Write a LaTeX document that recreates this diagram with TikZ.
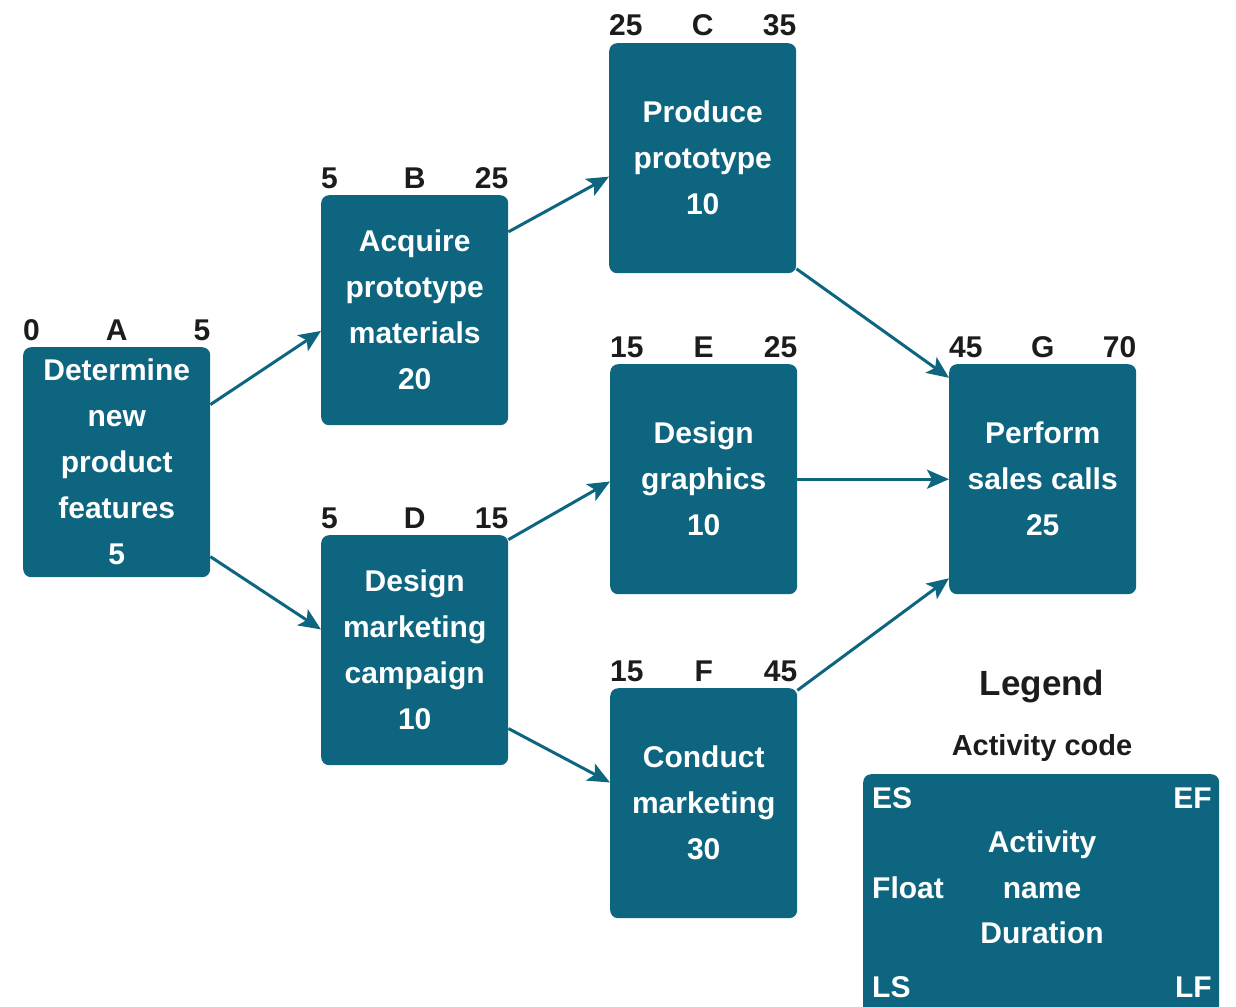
\documentclass[tikz,border=0pt]{standalone}
\usepackage{fontspec}
\setmainfont{Liberation Sans}
\usetikzlibrary{arrows.meta,calc}
\definecolor{teal1}{RGB}{13,101,128}
\definecolor{ink}{RGB}{28,28,28}
\tikzset{
  act/.style={fill=teal1, rounded corners=8pt, minimum width=187pt, minimum height=230pt,
    inner sep=0pt, text=white, font=\fontsize{30}{46}\selectfont\bfseries, align=center, anchor=north west},
  lab/.style={text=ink, font=\fontsize{30}{36}\selectfont\bfseries, inner sep=0pt},
  legtxt/.style={text=white, font=\fontsize{30}{46}\selectfont\bfseries, inner sep=0pt, align=center},
  conn/.style={draw=teal1, line width=3pt, -{Stealth[length=22pt,width=19pt,inset=5pt]}},
}
\newcommand\activity[7]{%
  \node[act] (#1) at (#2,#3) {#7};
  \node[lab, anchor=base west] (#1es) at ($(#1.north west)+(0,-7)$) {#5};
  \node[lab, anchor=base] (#1code) at ($(#1.north)+(0,-7)$) {#4};
  \node[lab, anchor=base east] (#1ef) at ($(#1.north east)+(0,-7)$) {#6};
}
\begin{document}
\begin{tikzpicture}[x=1pt,y=-1pt]
\useasboundingbox (0,0) rectangle (1236,1006);
\clip (0,0) rectangle (1236,1006);
\activity{A}{23}{347}{A}{0}{5}{Determine\\new\\product\\features\\5}
\activity{B}{321}{195}{B}{5}{25}{Acquire\\prototype\\materials\\20}
\activity{C}{609}{43}{C}{25}{35}{Produce\\prototype\\10}
\activity{D}{321}{535}{D}{5}{15}{Design\\marketing\\campaign\\10}
\activity{E}{610}{364}{E}{15}{25}{Design\\graphics\\10}
\activity{F}{610}{688}{F}{15}{45}{Conduct\\marketing\\30}
\activity{G}{949}{364}{G}{45}{70}{Perform\\sales calls\\25}

\draw[conn] ($(A.north east)!0.25!(A.south east)$) -- ($(B.north west)!0.59!(B.south west)$);
\draw[conn] ($(A.north east)!0.91!(A.south east)$) -- ($(D.north west)!0.41!(D.south west)$);
\draw[conn] ($(B.north east)!0.16!(B.south east)$) -- ($(C.north west)!0.58!(C.south west)$);
\draw[conn] ($(D.north east)!0.02!(D.south east)$) -- ($(E.north west)!0.51!(E.south west)$);
\draw[conn] ($(D.north east)!0.84!(D.south east)$) -- ($(F.north west)!0.41!(F.south west)$);
\draw[conn] ($(C.north east)!0.98!(C.south east)$) -- ($(G.north west)!0.06!(G.south west)$);
\draw[conn] (E.east) -- (G.west);
\draw[conn] ($(F.north east)!0.01!(F.south east)$) -- ($(G.north west)!0.93!(G.south west)$);

% legend
\node[text=ink, font=\fontsize{35}{40}\selectfont\bfseries, inner sep=0pt, anchor=base] (legtitle) at (1042,695) {Legend};
\node[text=ink, font=\fontsize{29}{36}\selectfont\bfseries, inner sep=0pt, anchor=base] (legcode) at (1042,755) {Activity code};
\node[fill=teal1, rounded corners=8pt, minimum width=356pt, minimum height=260pt, inner sep=0pt, anchor=north west] (legbox) at (863,774) {};
\node[legtxt, anchor=base west] (les) at (872,808) {ES};
\node[legtxt, anchor=base east] (lef) at (1212,808) {EF};
\node[legtxt, anchor=base west] (lfloat) at (872,898) {Float};
\node[legtxt, anchor=base] (lact) at (1042,852) {Activity};
\node[legtxt, anchor=base] (lname) at (1042,898) {name};
\node[legtxt, anchor=base] (ldur) at (1042,943) {Duration};
\node[legtxt, anchor=base west] (lls) at (872,997) {LS};
\node[legtxt, anchor=base east] (llf) at (1212,997) {LF};
\end{tikzpicture}
\end{document}
